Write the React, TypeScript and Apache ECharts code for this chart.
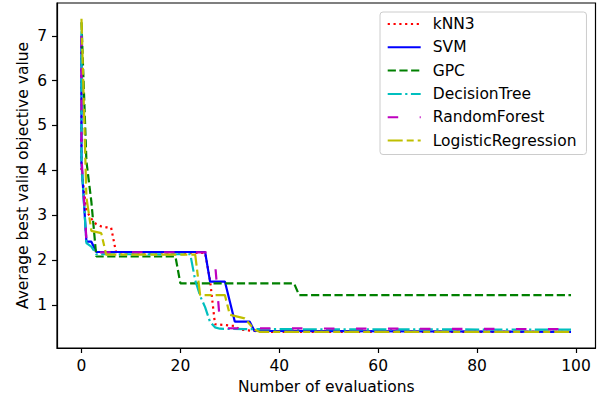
import React, { useEffect, useRef } from "react";
import * as echarts from "echarts";

const seriesNames = ["kNN3", "SVM", "GPC", "DecisionTree", "RandomForest", "LogisticRegression"];

const knn3 = [[0, 6.9], [0, 4.0], [1, 3.1], [2, 2.92], [3, 2.8], [4, 2.75], [5, 2.73], [6, 2.72], [7, 2.17], [25, 2.16], [26, 1.55], [27, 0.57], [31, 0.53], [32, 0.45], [35, 0.42], [36, 0.4], [99, 0.4]];
const svm = [[0, 7.0], [0, 4.18], [1, 2.41], [2, 2.41], [3, 2.18], [25, 2.18], [26, 1.52], [29, 1.52], [31, 0.63], [34, 0.63], [35, 0.42], [99, 0.4]];
const gpc = [[0, 7.3], [1, 4.2], [2, 3.3], [3, 2.08], [19, 2.08], [20, 1.48], [43, 1.48], [44, 1.22], [99, 1.22]];
const decisionTree = [[0, 7.1], [0, 4.18], [1, 2.38], [2, 2.3], [3, 2.13], [22, 2.13], [23, 1.55], [24, 1.2], [25, 0.95], [26, 0.62], [27, 0.5], [28, 0.47], [33, 0.46], [99, 0.45]];
const randomForest = [[0, 7.0], [0, 4.3], [1, 2.45], [2, 2.3], [3, 2.17], [26, 2.17], [27, 1.95], [28, 0.62], [29, 0.48], [99, 0.46]];
const logisticRegression = [[0, 7.38], [1, 3.4], [2, 2.65], [4, 2.6], [5, 2.12], [23, 2.12], [24, 1.22], [29, 1.22], [30, 0.78], [33, 0.7], [35, 0.45], [36, 0.4], [99, 0.4]];

const xTicks = [0, 20, 40, 60, 80, 100];
const yTicks = [1, 2, 3, 4, 5, 6, 7];

const colors = ["#ff0000", "#0000ff", "#008000", "#00bfbf", "#bf00bf", "#bfbf00"];
const dashes: any[] = [[2.2, 3.6], "solid", [8.2, 3.5], [14, 3.5, 2.2, 3.5], [10.5, 21.5], [15, 4, 7, 4]];

const FONT = "DejaVu Sans";

export default function App() {
  const ref = useRef<HTMLDivElement>(null);
  useEffect(() => {
    const chart = echarts.init(ref.current!, null, { renderer: "svg" });
    const allData = [knn3, svm, gpc, decisionTree, randomForest, logisticRegression];
    const axisLine = { show: true, onZero: false, lineStyle: { color: "#000", width: 1.2 } };
    chart.setOption({
      animation: false,
      backgroundColor: "#ffffff",
      textStyle: { fontFamily: FONT },
      grid: {
        left: 57,
        right: 10.5,
        top: 3,
        bottom: 56,
        show: true,
        borderColor: "#000",
        borderWidth: 1.2,
        containLabel: false,
        outerBoundsMode: "none",
      },
      legend: {
        left: 380,
        top: 12,
        orient: "vertical",
        itemWidth: 33,
        itemHeight: 14,
        itemGap: 7.3,
        padding: [4, 10, 6, 6.7],
        backgroundColor: "rgba(255,255,255,0.8)",
        borderColor: "#cccccc",
        borderWidth: 1,
        borderRadius: 3,
        itemStyle: { opacity: 0 },
        textStyle: { fontFamily: FONT, fontSize: 15.5, lineHeight: 16, color: "#000", padding: [0, 0, 0, 7] },
        data: seriesNames,
      },
      xAxis: {
        type: "value",
        min: -4.95,
        max: 103.95,
        name: "Number of evaluations",
        nameLocation: "middle",
        nameGap: 28,
        nameTextStyle: { fontFamily: FONT, fontSize: 15.5, color: "#000" },
        axisLine,
        axisTick: { show: true, length: 5, inside: false, customValues: xTicks, lineStyle: { color: "#000", width: 1.2 } },
        axisLabel: { customValues: xTicks, margin: 10, fontFamily: FONT, fontSize: 15.5, color: "#000" },
        splitLine: { show: false },
      },
      yAxis: {
        type: "value",
        min: 0.04,
        max: 7.73,
        name: "Average best valid objective value",
        nameLocation: "middle",
        nameGap: 26,
        nameMoveOverlap: false,
        nameTextStyle: { fontFamily: FONT, fontSize: 15.5, color: "#000" },
        axisLine,
        axisTick: { show: true, length: 5, inside: false, customValues: yTicks, lineStyle: { color: "#000", width: 1.2 } },
        axisLabel: { customValues: yTicks, margin: 10, fontFamily: FONT, fontSize: 15.5, color: "#000" },
        splitLine: { show: false },
      },
      series: seriesNames.map((name, i) => ({
        name,
        type: "line",
        data: allData[i],
        symbol: "none",
        showSymbol: false,
        color: colors[i],
        lineStyle: { color: colors[i], width: 2.2, type: dashes[i], cap: "butt" },
        z: 2 + i,
      })),
    });
    return () => chart.dispose();
  }, []);
  return <div ref={ref} style={{ position: "absolute", left: 0, top: 0, width: 606, height: 404 }} />;
}
